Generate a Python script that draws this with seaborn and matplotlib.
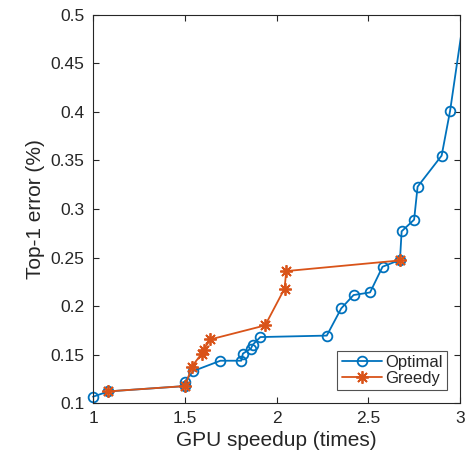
import matplotlib
matplotlib.use("Agg")
import matplotlib.pyplot as plt
from matplotlib.patches import Rectangle
import seaborn as sns
import pandas as pd

opt_x = [1.0, 1.0, 1.084, 1.503, 1.50, 1.547, 1.694, 1.808, 1.817, 1.86, 1.87, 1.912,
         2.274, 2.353, 2.42, 2.51, 2.578, 2.673, 2.682, 2.75, 2.769, 2.90, 2.946, 3.03]
opt_y = [0.102, 0.111, 0.112, 0.1175, 0.122, 0.133, 0.1436, 0.1436, 0.151, 0.156, 0.160, 0.168,
         0.1695, 0.1976, 0.2113, 0.214, 0.2405, 0.2476, 0.277, 0.289, 0.323, 0.355, 0.401, 0.51]
greedy_x = [1.084, 1.503, 1.538, 1.593, 1.603, 1.640, 1.938, 2.044, 2.053, 2.673]
greedy_y = [0.112, 0.1175, 0.1375, 0.151, 0.155, 0.1656, 0.180, 0.218, 0.236, 0.247]
series_names = ["Optimal", "Greedy"]
x_ticks = [1, 1.5, 2, 2.5, 3]
y_ticks = [0.1, 0.15, 0.2, 0.25, 0.3, 0.35, 0.4, 0.45, 0.5]

sns.set_style("white")
plt.rcParams['font.family'] = ['Liberation Sans', 'DejaVu Sans']

fig = plt.figure(figsize=(4.71, 4.5), dpi=100)
ax = fig.add_axes([0.1975, 0.1044, 0.7791, 0.8623])

df_opt = pd.DataFrame({"x": opt_x, "y": opt_y})
df_gr = pd.DataFrame({"x": greedy_x, "y": greedy_y})

sns.lineplot(data=df_opt, x="x", y="y", sort=False, ax=ax, color="#0072BD",
             marker="o", markersize=7, markerfacecolor="none", markeredgecolor="#0072BD",
             markeredgewidth=1.3, linewidth=1.3, label=series_names[0])
sns.lineplot(data=df_gr, x="x", y="y", sort=False, ax=ax, color="#D95319",
             marker=(8, 2, 0), markersize=9, markeredgecolor="#D95319",
             markeredgewidth=1.3, linewidth=1.3, label=series_names[1])

# clip only at right/top edges so markers on the left/bottom edge stay whole
clip_rect = Rectangle((-0.05, -0.05), 1.05, 1.05, transform=ax.transAxes,
                      facecolor="none", edgecolor="none")
for ln in ax.get_lines():
    ln.set_clip_path(clip_rect)

ax.set_xlim(1, 3)
ax.set_ylim(0.1, 0.5)
ax.set_xticks(x_ticks)
ax.set_xticklabels(["%g" % v for v in x_ticks])
ax.set_yticks(y_ticks)
ax.set_yticklabels(["%g" % v for v in y_ticks])
ax.tick_params(direction="in", length=4, width=0.8, colors="#262626",
               labelsize=12.5, top=True, right=True, bottom=True, left=True,
               labelcolor="#262626")
ax.tick_params(axis="x", pad=6)
ax.tick_params(axis="y", pad=6)
for s in ax.spines.values():
    s.set_color("#262626")
    s.set_linewidth(0.8)
ax.set_xlabel("GPU speedup (times)", fontsize=15, color="#262626", labelpad=3)
ax.set_ylabel("Top-1 error (%)", fontsize=15, color="#262626", labelpad=4)

leg = ax.legend(loc="lower right", fontsize=12, frameon=True, fancybox=False,
                edgecolor="#262626", handlelength=2.4, handletextpad=0.2,
                borderpad=0.25, labelspacing=0.05, borderaxespad=0.8)
leg.get_frame().set_linewidth(0.8)

fig.savefig("out.png", dpi=100)
